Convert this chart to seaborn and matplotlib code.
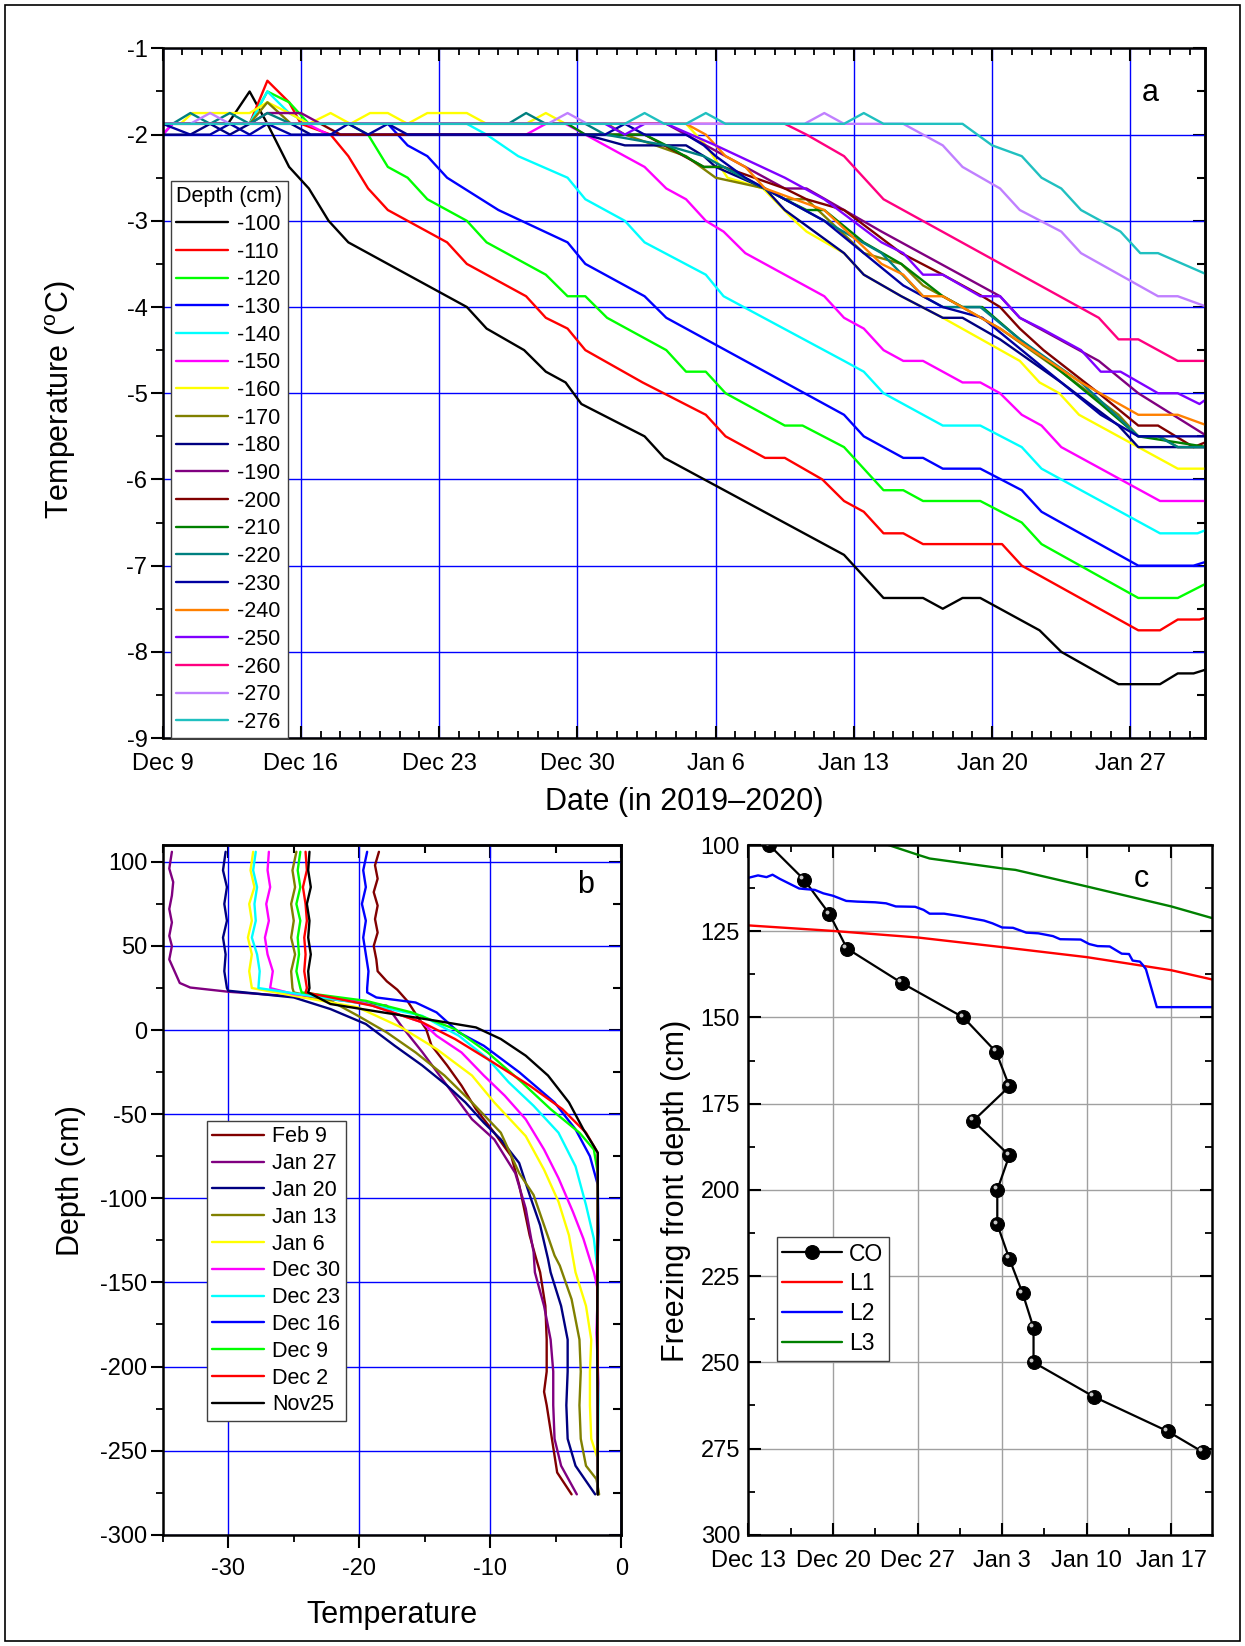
import pandas as pd
import matplotlib
matplotlib.use("Agg")
import matplotlib.pyplot as plt
import matplotlib.transforms as mtransforms
from matplotlib.ticker import MultipleLocator
from matplotlib.patches import Rectangle
import seaborn as sns

sns.set_theme(style="ticks", rc={"text.color": "black", "axes.labelcolor": "black",
                                 "xtick.color": "black", "ytick.color": "black",
                                 "axes.edgecolor": "black"})
plt.rcParams['font.family'] = ['Liberation Sans', 'DejaVu Sans']
plt.rcParams['mathtext.default'] = 'regular'
plt.rcParams['axes.unicode_minus'] = False

# ---------------- panel a : temperature at depth vs date ----------------
a_start = pd.Timestamp("2019-12-09")
a_end = a_start + pd.Timedelta(days=52.78)
a_tick_labels = ["Dec 9", "Dec 16", "Dec 23", "Dec 30", "Jan 6", "Jan 13", "Jan 20", "Jan 27"]
a_depths = ["-100", "-110", "-120", "-130", "-140", "-150", "-160", "-170", "-180", "-190",
            "-200", "-210", "-220", "-230", "-240", "-250", "-260", "-270", "-276"]
a_colors = ["#000000", "#FF0000", "#00FF00", "#0000FF", "#00FFFF", "#FF00FF", "#FFFF00",
            "#808000", "#000080", "#800080", "#800000", "#008000", "#008080", "#0000A0",
            "#FF8000", "#8000FF", "#FF0080", "#C080FF", "#20C0C0"]

# days after Dec 9, temperature (degC)
d100_days = [0, 3.3, 4.4, 5.3, 6.4, 7.4, 8.4, 9.4, 15.4, 16.4, 18.3, 19.4, 20.4, 21.2, 24.4, 25.4,
             34.5, 35.0, 36.5, 38.5, 39.5, 40.5, 41.4, 44.4, 45.5, 48.4, 50.5, 51.4, 52.2, 52.9]
d100_temp = [-1.875, -1.875, -1.5, -1.875, -2.375, -2.625, -3.0, -3.25, -4.0, -4.25, -4.5, -4.75,
             -4.875, -5.125, -5.5, -5.75, -6.875, -7.0, -7.375, -7.375, -7.5, -7.375, -7.375,
             -7.75, -8.0, -8.375, -8.375, -8.25, -8.25, -8.2]
d110_days = [0, 4.4, 5.3, 6.4, 7.0, 8.5, 9.4, 10.4, 11.4, 12.4, 14.4, 15.4, 18.4, 19.4, 20.5, 21.4,
             24.3, 27.5, 28.5, 30.5, 31.5, 33.4, 34.5, 35.5, 36.5, 37.5, 38.5, 42.5, 43.5, 49.4,
             50.5, 51.4, 52.5, 52.9]
d110_temp = [-1.875, -1.875, -1.375, -1.625, -1.875, -2.0, -2.25, -2.625, -2.875, -3.0, -3.25,
             -3.5, -3.875, -4.125, -4.25, -4.5, -4.875, -5.25, -5.5, -5.75, -5.75, -6.0, -6.25,
             -6.375, -6.625, -6.625, -6.75, -6.75, -7.0, -7.75, -7.75, -7.625, -7.625, -7.6]
d120_days = [0, 4.4, 5.3, 6.4, 7.4, 9.4, 10.4, 11.4, 12.4, 13.4, 15.4, 16.4, 19.4, 20.5, 21.4,
             22.5, 25.5, 26.5, 27.5, 28.5, 31.5, 32.4, 34.5, 35.5, 36.5, 37.5, 38.5, 41.4, 43.5,
             44.5, 49.4, 51.4, 52.9]
d120_temp = [-1.875, -1.875, -1.5, -1.625, -1.875, -1.875, -2.0, -2.375, -2.5, -2.75, -3.0, -3.25,
             -3.625, -3.875, -3.875, -4.125, -4.5, -4.75, -4.75, -5.0, -5.375, -5.375, -5.625,
             -5.875, -6.125, -6.125, -6.25, -6.25, -6.5, -6.75, -7.375, -7.375, -7.2]
d130_days = [0, 0.5, 11.4, 12.4, 13.4, 14.4, 17.0, 20.5, 21.4, 24.4, 25.5, 34.5, 35.5, 37.5, 38.5,
             39.5, 41.4, 43.5, 44.5, 49.4, 52.2, 52.9]
d130_temp = [-2.0, -1.875, -1.875, -2.125, -2.25, -2.5, -2.875, -3.25, -3.5, -3.875, -4.125, -5.25,
             -5.5, -5.75, -5.75, -5.875, -5.875, -6.125, -6.375, -7.0, -7.0, -6.95]
d140_days = [0, 4.4, 5.3, 6.4, 7.4, 15.4, 16.4, 18.0, 20.5, 21.4, 23.4, 24.4, 27.5, 28.4, 34.5,
             35.5, 36.5, 39.5, 41.4, 43.5, 44.5, 50.5, 52.4, 52.9]
d140_temp = [-1.875, -1.875, -1.5, -1.75, -1.875, -1.875, -2.0, -2.25, -2.5, -2.75, -3.0, -3.25,
             -3.625, -3.875, -4.625, -4.75, -5.0, -5.375, -5.375, -5.625, -5.875, -6.625, -6.625,
             -6.58]
d150_days = [0, 0.5, 7.3, 8.4, 18.4, 19.4, 20.4, 21.4, 24.4, 25.5, 26.5, 27.5, 28.4, 29.5, 33.5,
             34.5, 35.5, 36.5, 37.5, 38.5, 40.5, 41.4, 42.4, 43.5, 44.5, 45.5, 50.5, 52.9]
d150_temp = [-2.0, -1.875, -1.875, -2.0, -2.0, -1.875, -1.875, -2.0, -2.375, -2.625, -2.75, -3.0,
             -3.125, -3.375, -3.875, -4.125, -4.25, -4.5, -4.625, -4.625, -4.875, -4.875, -5.0,
             -5.25, -5.375, -5.625, -6.25, -6.25]
d160_days = [0, 0.9, 1.5, 4.4, 5.3, 6.4, 7.4, 8.5, 9.5, 10.5, 11.4, 12.4, 13.4, 15.4, 16.4, 18.4,
             19.4, 20.4, 26.5, 27.5, 28.6, 30.4, 32.0, 32.6, 34.5, 35.5, 37.4, 39.5, 43.4, 44.4,
             45.4, 46.4, 51.4, 52.9]
d160_temp = [-1.875, -1.875, -1.75, -1.75, -1.625, -1.75, -1.875, -1.75, -1.875, -1.75, -1.75,
             -1.875, -1.75, -1.75, -1.875, -1.875, -1.75, -1.875, -1.875, -2.125, -2.5, -2.625,
             -3.0, -3.125, -3.375, -3.625, -3.875, -4.125, -4.625, -4.875, -5.0, -5.25, -5.875,
             -5.875]
d170_days = [0, 4.4, 5.3, 6.5, 22.5, 23.4, 26.5, 28.0, 30.5, 31.5, 32.6, 35.5, 37.4, 38.5, 39.5,
             42.4, 45.5, 48.4, 49.4, 50.5, 51.4, 52.9]
d170_temp = [-1.875, -1.875, -1.625, -1.875, -1.875, -2.0, -2.25, -2.5, -2.625, -2.75, -2.75,
             -3.375, -3.5, -3.75, -3.875, -4.25, -4.75, -5.25, -5.5, -5.5, -5.625, -5.625]
d180_days = [0, 1.4, 2.4, 3.4, 4.4, 6.5, 7.5, 21.4, 23.4, 26.5, 27.4, 28.0, 30.5, 31.5, 34.5,
             35.5, 37.4, 39.5, 40.5, 42.4, 45.5, 48.4, 49.4, 52.9]
d180_temp = [-2.0, -2.0, -1.875, -2.0, -1.875, -1.875, -2.0, -2.0, -2.125, -2.125, -2.25, -2.375,
             -2.625, -2.875, -3.375, -3.625, -3.875, -4.125, -4.125, -4.375, -4.875, -5.375,
             -5.625, -5.625]
d190_days = [0, 4.4, 5.3, 7.0, 8.0, 25.5, 26.5, 28.5, 31.5, 32.6, 36.4, 42.4, 43.4, 47.4, 49.4,
             52.9]
d190_temp = [-1.875, -1.875, -1.75, -1.75, -1.875, -1.875, -2.0, -2.25, -2.625, -2.625, -3.125,
             -3.875, -4.125, -4.625, -5.0, -5.5]
d200_days = [0, 8.0, 9.0, 24.4, 27.4, 28.4, 31.5, 32.6, 34.5, 37.4, 39.5, 41.5, 42.4, 43.4, 44.6,
             47.4, 49.4, 50.4, 52.2, 52.9]
d200_temp = [-1.875, -1.875, -2.0, -2.0, -2.375, -2.375, -2.625, -2.75, -2.875, -3.375, -3.625,
             -3.875, -4.0, -4.25, -4.5, -5.0, -5.375, -5.375, -5.625, -5.56]
d210_days = [0, 20.5, 21.4, 24.4, 25.5, 27.4, 28.4, 31.5, 32.6, 33.5, 35.5, 37.4, 39.5, 40.5,
             41.5, 43.4, 45.5, 47.5, 49.4, 52.9]
d210_temp = [-1.875, -1.875, -2.0, -2.0, -2.125, -2.375, -2.375, -2.75, -2.875, -2.875, -3.25,
             -3.5, -3.875, -4.0, -4.0, -4.375, -4.75, -5.125, -5.5, -5.625]
d220_days = [0, 0.5, 1.4, 2.4, 3.4, 4.4, 5.3, 6.5, 17.5, 18.4, 19.4, 21.4, 22.4, 25.5, 27.4,
             28.4, 31.5, 33.5, 36.4, 38.5, 39.5, 41.4, 43.4, 46.5, 49.4, 50.4, 51.4, 52.9]
d220_temp = [-1.875, -1.875, -1.75, -1.875, -1.75, -1.875, -1.75, -1.875, -1.875, -1.75, -1.875,
             -1.875, -2.0, -2.125, -2.25, -2.375, -2.75, -3.0, -3.375, -3.875, -4.0, -4.0, -4.375,
             -4.875, -5.5, -5.5, -5.625, -5.625]
d230_days = [0, 1.4, 2.4, 3.4, 4.4, 5.3, 6.5, 8.5, 9.4, 10.4, 11.4, 12.4, 22.4, 23.4, 24.4, 26.5,
             27.4, 28.0, 29.5, 31.5, 33.5, 35.5, 37.5, 39.5, 41.5, 43.5, 45.5, 47.5, 49.4, 52.9]
d230_temp = [-1.875, -2.0, -2.0, -1.875, -2.0, -1.875, -2.0, -2.0, -1.875, -2.0, -1.875, -2.0,
             -2.0, -1.875, -2.0, -2.0, -2.125, -2.25, -2.5, -2.75, -3.0, -3.375, -3.75, -4.0,
             -4.125, -4.5, -4.875, -5.25, -5.5, -5.5]
d240_days = [0, 26.5, 27.5, 28.5, 29.5, 30.5, 33.5, 36.4, 37.5, 38.5, 39.5, 42.4, 46.5, 49.4,
             51.4, 52.9]
d240_temp = [-1.875, -1.875, -2.0, -2.25, -2.375, -2.625, -2.875, -3.5, -3.625, -3.875, -3.875,
             -4.25, -4.875, -5.25, -5.25, -5.375]
d250_days = [0, 22.4, 23.4, 24.4, 25.5, 28.0, 31.5, 33.5, 36.4, 37.5, 38.5, 39.5, 41.4, 42.4,
             43.4, 44.5, 46.5, 47.5, 48.5, 50.4, 51.4, 52.5, 52.9]
d250_temp = [-1.875, -1.875, -2.0, -1.875, -1.875, -2.125, -2.5, -2.75, -3.25, -3.375, -3.625,
             -3.625, -3.875, -3.875, -4.125, -4.25, -4.5, -4.75, -4.75, -5.0, -5.0, -5.125, -5.06]
d260_days = [0, 31.5, 32.6, 34.5, 36.5, 47.4, 48.4, 49.4, 51.4, 52.9]
d260_temp = [-1.875, -1.875, -2.0, -2.25, -2.75, -4.125, -4.375, -4.375, -4.625, -4.625]
d270_days = [0, 1.4, 2.4, 3.4, 19.5, 20.5, 21.5, 32.5, 33.5, 34.5, 37.5, 39.5, 40.5, 42.4, 43.4,
             45.5, 46.5, 50.4, 51.4, 52.9]
d270_temp = [-1.875, -1.875, -1.75, -1.875, -1.875, -1.75, -1.875, -1.875, -1.75, -1.875, -1.875,
             -2.125, -2.375, -2.625, -2.875, -3.125, -3.375, -3.875, -3.875, -4.0]
d276_days = [0, 23.4, 24.4, 25.4, 26.5, 27.5, 28.5, 34.5, 35.5, 36.5, 40.5, 42.0, 43.5, 44.5,
             45.5, 46.5, 48.5, 49.5, 50.4, 52.9]
d276_temp = [-1.875, -1.875, -1.75, -1.875, -1.875, -1.75, -1.875, -1.875, -1.75, -1.875, -1.875,
             -2.125, -2.25, -2.5, -2.625, -2.875, -3.125, -3.375, -3.375, -3.625]

# ---------------- panel b : temperature profiles ----------------
b_labels = ["Feb 9", "Jan 27", "Jan 20", "Jan 13", "Jan 6", "Dec 30", "Dec 23", "Dec 16",
            "Dec 9", "Dec 2", "Nov25"]
b_colors = ["#800000", "#800080", "#000080", "#808000", "#FFFF00", "#FF00FF", "#00FFFF",
            "#0000FF", "#00FF00", "#FF0000", "#000000"]
feb9_d = [106, 98, 90, 82, 74, 66, 58, 50, 42, 35, 29, 24, 17, 8.5, 0.6, -9, -21, -33, -47, -61,
          -75, -92, -122, -136, -144, -164, -184, -203, -215, -223, -243, -263, -276]
feb9_t = [-18.5, -18.8, -18.6, -18.9, -18.6, -18.8, -18.6, -18.9, -18.7, -18.6, -17.9, -17.1,
          -16.3, -15.6, -14.9, -14.5, -13.3, -12.2, -11.1, -9.7, -8.4, -7.8, -7.0, -6.5, -6.2,
          -5.8, -5.7, -5.7, -5.9, -5.7, -5.3, -4.9, -3.8]
jan27_d = [106, 96, 88, 80, 72, 64, 56, 50, 42, 35, 28, 25.3, 22.8, 18.4, 14.5, 2.6, -13, -33,
           -53, -65, -85, -106, -132, -144, -164, -184, -203, -223, -243, -259, -276]
jan27_t = [-34.3, -34.5, -34.2, -34.3, -34.5, -34.3, -34.5, -34.3, -34.5, -34.1, -33.7, -32.9,
           -30.0, -22.2, -17.9, -16.8, -15.2, -13.3, -11.4, -9.7, -8.1, -7.3, -6.7, -6.6, -5.9,
           -5.4, -5.2, -5.2, -5.1, -4.6, -3.4]
jan20_d = [106, 95, 85, 75, 65, 55, 45, 35, 25, 23.4, 19.4, 12.5, 3.6, -9.3, -21, -33, -43, -55,
           -65, -79, -98, -116, -136, -144, -164, -184, -203, -223, -243, -259, -276]
jan20_t = [-30.2, -30.4, -30.1, -30.3, -30.1, -30.4, -30.2, -30.3, -30.1, -30.0, -25.0, -22.2,
           -19.5, -17.3, -15.2, -13.3, -11.9, -10.5, -9.2, -7.8, -7.0, -6.2, -5.6, -5.4, -4.6,
           -4.1, -4.1, -4.2, -4.1, -3.5, -2.0]
jan13_d = [106, 95, 85, 75, 65, 55, 45, 35, 25, 22.4, 17.4, 8.5, -1.4, -13.3, -27, -43, -61, -85,
           -98, -116, -134, -140, -160, -184, -203, -223, -243, -259, -267, -276]
jan13_t = [-24.8, -25.1, -24.9, -25.2, -25.0, -25.2, -24.9, -25.2, -25.1, -25.0, -22.2, -20.1,
           -17.9, -15.7, -13.5, -11.4, -9.2, -7.8, -6.7, -5.9, -5.1, -4.7, -3.8, -3.2, -3.1,
           -3.2, -3.1, -2.7, -1.9, -1.7]
jan6_d = [106, 95, 85, 75, 65, 55, 45, 35, 25, 20.4, 13.5, 1.6, -11.3, -27, -43, -63, -83, -102,
          -122, -144, -164, -184, -203, -223, -243, -255, -276]
jan6_t = [-28.1, -28.3, -28.0, -28.4, -28.2, -28.5, -28.2, -28.4, -28.2, -25.0, -20.1, -16.8,
          -14.1, -11.4, -9.7, -7.3, -5.9, -4.8, -4.0, -3.5, -2.7, -2.3, -2.4, -2.4, -2.3, -1.8,
          -1.8]
dec30_d = [106, 95, 85, 75, 65, 55, 45, 35, 25, 21.4, 17.4, 4.6, -3.4, -13.3, -27, -39, -53, -71,
           -88, -108, -124, -144, -154, -180, -210, -240, -276]
dec30_t = [-26.9, -27.0, -26.8, -27.1, -26.9, -27.2, -27.0, -26.6, -26.8, -25.0, -20.1, -15.2,
           -14.1, -12.2, -10.5, -8.9, -7.3, -5.9, -4.8, -3.7, -2.9, -2.1, -1.8, -1.9, -1.75,
           -1.85, -1.8]
dec23_d = [106, 95, 85, 75, 65, 55, 45, 35, 25, 15.5, 8.5, -3.4, -17, -31, -45, -61, -81, -104,
           -124, -144, -180, -220, -250, -276]
dec23_t = [-27.9, -28.1, -27.8, -28.0, -27.9, -28.2, -27.8, -27.6, -27.7, -19.5, -15.2, -12.4,
           -10.2, -8.6, -6.7, -4.8, -3.5, -2.7, -2.1, -1.8, -1.85, -1.75, -1.8, -1.8]
dec16_d = [106, 95, 85, 75, 65, 55, 45, 35, 25, 22.4, 19.4, 16.4, 10.5, -1.4, -9.3, -25, -43,
           -59, -75, -92, -120, -150, -200, -250, -276]
dec16_t = [-19.4, -19.7, -19.5, -19.8, -19.5, -19.7, -19.5, -19.3, -19.4, -19.4, -18.7, -15.7,
           -14.1, -12.4, -10.5, -7.8, -5.1, -3.5, -2.4, -1.8, -1.75, -1.85, -1.8, -1.8, -1.8]
dec9_d = [106, 95, 85, 75, 65, 55, 45, 35, 25, 22.4, 17.4, 10.5, 0.6, -13.3, -31, -47, -61, -71,
          -85, -120, -170, -220, -276]
dec9_t = [-24.5, -24.7, -24.5, -24.8, -24.5, -24.7, -24.6, -24.8, -24.5, -24.4, -19.5, -16.0,
          -12.7, -10.2, -7.6, -5.4, -3.2, -2.1, -1.8, -1.8, -1.85, -1.8, -1.8]
dec2_d = [106, 95, 85, 75, 65, 55, 45, 35, 25, 22.4, 14.5, 4.6, -5.3, -18.2, -33, -47, -61, -73,
          -100, -150, -200, -276]
dec2_t = [-24.1, -24.0, -24.3, -24.1, -24.0, -24.2, -24.1, -24.2, -24.0, -24.1, -19.0, -15.2,
          -12.7, -10.0, -7.0, -4.5, -2.7, -1.8, -1.8, -1.85, -1.8, -1.8]
nov25_d = [106, 95, 85, 75, 65, 55, 45, 35, 25, 22.4, 15.5, 10.5, 5.5, 1.6, -5.3, -15.2, -27,
           -43, -59, -69, -73, -120, -180, -240, -276]
nov25_t = [-23.8, -23.9, -23.7, -24.0, -23.8, -23.9, -23.7, -23.9, -23.8, -23.9, -22.2, -18.2,
           -14.1, -11.1, -9.2, -7.3, -5.6, -4.0, -2.9, -2.1, -1.8, -1.8, -1.85, -1.8, -1.8]

# ---------------- panel c : freezing front depth ----------------
c_start = pd.Timestamp("2019-12-13")
c_end = c_start + pd.Timedelta(days=38.4)
c_tick_labels = ["Dec 13", "Dec 20", "Dec 27", "Jan 3", "Jan 10", "Jan 17"]
co_days = [1.73, 4.6, 6.71, 8.16, 12.7, 17.8, 20.5, 21.6, 18.6, 21.6, 20.6, 20.6, 21.6, 22.7,
           23.6, 23.6, 28.6, 34.7, 37.6]
co_depth = [100, 110, 120, 130, 140, 150, 160, 170, 180, 190, 200, 210, 220, 230, 240, 250, 260,
            270, 276]
l1_days = [0, 7, 14, 21, 28, 35, 38.4]
l1_depth = [123.3, 124.9, 126.8, 129.6, 132.5, 136.3, 139.0]
l2_days = [0, 0.8, 1.5, 2.0, 2.6, 3.0, 4.2, 4.8, 5.5, 6.2, 7.0, 8.1, 9.0, 10.5, 11.4, 12.2, 13.8,
           14.5, 15.0, 16.2, 17.5, 18.7, 19.5, 20.2, 21.0, 21.9, 23.0, 24.0, 25.2, 25.8, 27.5,
           28.2, 28.9, 29.9, 30.9, 31.5, 31.8, 32.4, 32.6, 32.9, 33.8, 38.4]
l2_depth = [109.5, 108.8, 109.3, 108.6, 109.8, 110.5, 112.6, 112.8, 113.0, 114.0, 114.7, 116.2,
            116.4, 116.6, 116.9, 117.8, 117.9, 118.8, 119.9, 119.9, 120.6, 121.4, 121.9, 122.7,
            123.9, 124.0, 125.4, 125.6, 126.4, 127.3, 127.4, 128.7, 129.3, 129.4, 131.5, 131.6,
            133.5, 133.8, 134.6, 136.0, 147.0, 147.0]
l3_days = [10.0, 11.6, 14.1, 15.0, 21.06, 22.1, 28.0, 35.0, 38.5]
l3_depth = [98.5, 100.0, 102.9, 103.9, 106.8, 107.2, 112.0, 117.8, 121.3]

TICK_FS = 17
LABEL_FS = 22
LEG_FS = 15.5
SPINE_W = 1.8


def style_spines(ax):
    for s in ax.spines.values():
        s.set_linewidth(SPINE_W)
        s.set_color("black")


fig = plt.figure(figsize=(12.45, 16.46), dpi=100)

# ---------- a ----------
ax_a = fig.add_axes([0.1307, 0.5516, 0.8372, 0.4190])
a_series = [(d100_days, d100_temp), (d110_days, d110_temp), (d120_days, d120_temp),
            (d130_days, d130_temp), (d140_days, d140_temp), (d150_days, d150_temp),
            (d160_days, d160_temp), (d170_days, d170_temp), (d180_days, d180_temp),
            (d190_days, d190_temp), (d200_days, d200_temp), (d210_days, d210_temp),
            (d220_days, d220_temp), (d230_days, d230_temp), (d240_days, d240_temp),
            (d250_days, d250_temp), (d260_days, d260_temp), (d270_days, d270_temp),
            (d276_days, d276_temp)]
for (days, temps), lab, col in zip(a_series, a_depths, a_colors):
    dates = a_start + pd.to_timedelta(days, unit="D")
    sns.lineplot(x=dates, y=temps, ax=ax_a, color=col, lw=1.7, label=lab,
                 sort=False, estimator=None, legend=False)

ax_a.set_xlim(a_start, a_end)
ax_a.set_ylim(-9, -1)
a_major = pd.date_range(a_start, periods=len(a_tick_labels), freq="7D")
ax_a.set_xticks(a_major, a_tick_labels)
ax_a.set_xticks(pd.date_range(a_start, a_end, freq="1D"), minor=True)
ax_a.set_yticks(range(-9, 0))
ax_a.yaxis.set_minor_locator(MultipleLocator(0.5))
ax_a.grid(which="major", color="#0000FF", lw=1.0)
ax_a.set_axisbelow(True)
ax_a.tick_params(axis="x", which="both", bottom=True, top=True, direction="in", pad=11,
                 labelsize=TICK_FS)
ax_a.tick_params(axis="y", which="both", left=True, right=False, direction="out", pad=2,
                 labelsize=TICK_FS)
ax_a.tick_params(which="major", length=9, width=1.5)
ax_a.tick_params(which="minor", length=5, width=1.3)
sec_a = ax_a.secondary_yaxis("right")
sec_a.set_yticks(range(-9, 0))
sec_a.yaxis.set_minor_locator(MultipleLocator(0.5))
sec_a.tick_params(which="both", direction="in", labelright=False, width=1.5)
sec_a.tick_params(which="major", length=9)
sec_a.tick_params(which="minor", length=6)
sec_a.spines["right"].set_linewidth(SPINE_W)
style_spines(ax_a)
ax_a.set_ylabel("Temperature ($^o$C)", fontsize=LABEL_FS)
ax_a.yaxis.set_label_coords(-0.081, 0.49)
ax_a.set_xlabel("Date (in 2019\u20132020)", fontsize=LABEL_FS)
ax_a.xaxis.set_label_coords(0.5, -0.071)
leg_a = ax_a.legend(loc="upper left", bbox_to_anchor=(0.008, 0.808), title="Depth (cm)",
                    fontsize=LEG_FS, title_fontsize=LEG_FS, alignment="left", frameon=True,
                    fancybox=False, edgecolor="#404040", framealpha=1, borderpad=0.25,
                    labelspacing=0.31, handlelength=2.4, handletextpad=0.4, borderaxespad=0)
leg_a.get_frame().set_linewidth(1.0)
ax_a.text(0.947, 0.936, "a", transform=ax_a.transAxes, fontsize=22, ha="center", va="center")

# ---------- b ----------
ax_b = fig.add_axes([0.1307, 0.0676, 0.3684, 0.4190])
b_series = [(feb9_t, feb9_d), (jan27_t, jan27_d), (jan20_t, jan20_d), (jan13_t, jan13_d),
            (jan6_t, jan6_d), (dec30_t, dec30_d), (dec23_t, dec23_d), (dec16_t, dec16_d),
            (dec9_t, dec9_d), (dec2_t, dec2_d), (nov25_t, nov25_d)]
for (temps, depths), lab, col in zip(b_series, b_labels, b_colors):
    sns.lineplot(x=temps, y=depths, ax=ax_b, color=col, lw=1.7, label=lab,
                 sort=False, estimator=None, legend=False)
ax_b.set_xlim(-35, 0)
ax_b.set_ylim(-300, 110)
ax_b.set_xticks([-30, -20, -10, 0])
ax_b.xaxis.set_minor_locator(MultipleLocator(5))
ax_b.set_yticks(range(-300, 101, 50))
ax_b.yaxis.set_minor_locator(MultipleLocator(25))
ax_b.grid(which="major", color="#0000FF", lw=1.0)
ax_b.set_axisbelow(True)
ax_b.tick_params(which="both", bottom=True, left=True, top=False, right=False,
                 direction="out", labelsize=TICK_FS)
ax_b.tick_params(axis="x", pad=8)
ax_b.tick_params(axis="y", pad=2)
ax_b.tick_params(which="major", length=9, width=1.5)
ax_b.tick_params(which="minor", length=5, width=1.3)
sec_bx = ax_b.secondary_xaxis("top")
sec_bx.set_xticks([-30, -20, -10, 0])
sec_bx.xaxis.set_minor_locator(MultipleLocator(5))
sec_bx.tick_params(which="both", direction="in", labeltop=False, width=1.5)
sec_bx.tick_params(which="major", length=9)
sec_bx.tick_params(which="minor", length=6)
sec_bx.spines["top"].set_linewidth(SPINE_W)
sec_by = ax_b.secondary_yaxis("right")
sec_by.set_yticks(range(-300, 101, 50))
sec_by.yaxis.set_minor_locator(MultipleLocator(25))
sec_by.tick_params(which="both", direction="in", labelright=False, width=1.5)
sec_by.tick_params(which="major", length=9)
sec_by.tick_params(which="minor", length=6)
sec_by.spines["right"].set_linewidth(SPINE_W)
style_spines(ax_b)
ax_b.set_ylabel("Depth (cm)", fontsize=LABEL_FS)
ax_b.yaxis.set_label_coords(-0.168, 0.513)
ax_b.set_xlabel("Temperature", fontsize=LABEL_FS)
ax_b.xaxis.set_label_coords(0.5, -0.095)
leg_b = ax_b.legend(loc="upper left", bbox_to_anchor=(0.096, 0.600), fontsize=LEG_FS,
                    frameon=True, fancybox=False, edgecolor="#404040", framealpha=1,
                    borderpad=0.25, labelspacing=0.27, handlelength=2.4, handletextpad=0.4,
                    borderaxespad=0)
leg_b.get_frame().set_linewidth(1.0)
ax_b.text(0.922, 0.942, "b", transform=ax_b.transAxes, fontsize=22, ha="center", va="center")

# ---------- c ----------
ax_c = fig.add_axes([0.6011, 0.0676, 0.3727, 0.4190])
co_dates = c_start + pd.to_timedelta(co_days, unit="D")
sns.lineplot(x=co_dates, y=co_depth, ax=ax_c, color="black", lw=1.6, marker="o",
             markersize=10, markeredgecolor="black", label="CO", sort=False, estimator=None,
             legend=False)
shine = ax_c.transData + mtransforms.ScaledTranslation(-1.8 / 72, 1.8 / 72, fig.dpi_scale_trans)
sns.scatterplot(x=co_dates, y=co_depth, ax=ax_c, color="#c8c8c8", s=8, linewidth=0,
                transform=shine, legend=False, zorder=4)
sns.lineplot(x=c_start + pd.to_timedelta(l1_days, unit="D"), y=l1_depth, ax=ax_c,
             color="#FF0000", lw=1.7, label="L1", sort=False, estimator=None, legend=False)
sns.lineplot(x=c_start + pd.to_timedelta(l2_days, unit="D"), y=l2_depth, ax=ax_c,
             color="#0000FF", lw=1.7, label="L2", sort=False, estimator=None, legend=False)
sns.lineplot(x=c_start + pd.to_timedelta(l3_days, unit="D"), y=l3_depth, ax=ax_c,
             color="#008000", lw=1.7, label="L3", sort=False, estimator=None, legend=False)
ax_c.set_xlim(c_start, c_end)
ax_c.set_ylim(300, 100)
c_major = pd.date_range(c_start, periods=len(c_tick_labels), freq="7D")
ax_c.set_xticks(c_major, c_tick_labels)
ax_c.set_xticks(c_start + pd.to_timedelta([3.5, 10.5, 17.5, 24.5, 31.5], unit="D"), minor=True)
ax_c.set_yticks(range(100, 301, 25))
ax_c.yaxis.set_minor_locator(MultipleLocator(12.5))
ax_c.grid(which="major", color="#a0a0a0", lw=1.0)
ax_c.set_axisbelow(True)
ax_c.tick_params(which="both", direction="in", top=True, right=True, bottom=True, left=True,
                 labelsize=TICK_FS)
ax_c.tick_params(axis="x", pad=11)
ax_c.tick_params(axis="y", pad=6)
ax_c.tick_params(which="major", length=9, width=1.5)
ax_c.tick_params(which="minor", length=5, width=1.3)
style_spines(ax_c)
ax_c.set_xlabel("")
ax_c.set_ylabel("Freezing front depth (cm)", fontsize=LABEL_FS)
ax_c.yaxis.set_label_coords(-0.124, 0.498)
leg_c = ax_c.legend(loc="upper left", bbox_to_anchor=(0.061, 0.432), fontsize=16.5,
                    frameon=True, fancybox=False, edgecolor="#404040", framealpha=1,
                    borderpad=0.25, labelspacing=0.3, handlelength=2.6, handletextpad=0.3,
                    borderaxespad=0)
leg_c.get_frame().set_linewidth(1.0)
ax_c.text(0.848, 0.951, "c", transform=ax_c.transAxes, fontsize=22, ha="center", va="center")

fig.add_artist(Rectangle((0.004, 0.003), 0.992, 0.994, transform=fig.transFigure,
                         fill=False, lw=1.2, ec="black"))

fig.savefig("out.png", dpi=100)
